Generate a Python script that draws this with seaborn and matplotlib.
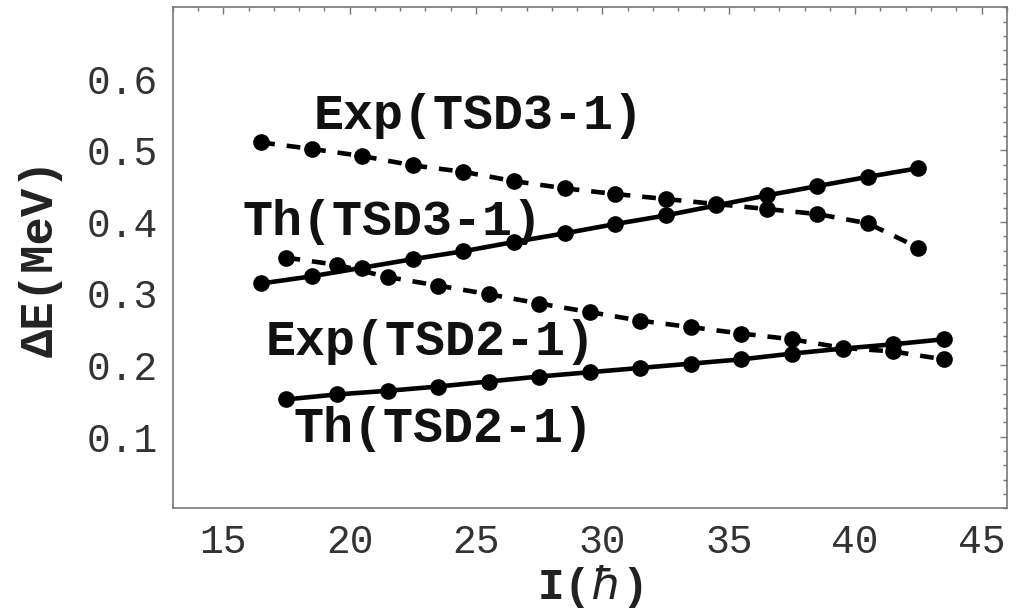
import matplotlib
matplotlib.use("Agg")
import matplotlib.pyplot as plt
import seaborn as sns
from matplotlib.ticker import MultipleLocator

# ---- data ----
spin_tsd3 = [16.5, 18.5, 20.5, 22.5, 24.5, 26.5, 28.5, 30.5, 32.5, 34.5, 36.5, 38.5, 40.5, 42.5]
exp_tsd3 = [0.511, 0.502, 0.492, 0.479, 0.470, 0.457, 0.447, 0.439, 0.432, 0.425, 0.418, 0.411, 0.398, 0.364]
th_tsd3 = [0.314, 0.324, 0.336, 0.348, 0.359, 0.372, 0.384, 0.397, 0.409, 0.423, 0.437, 0.450, 0.463, 0.475]

spin_tsd2 = [17.5, 19.5, 21.5, 23.5, 25.5, 27.5, 29.5, 31.5, 33.5, 35.5, 37.5, 39.5, 41.5, 43.5]
exp_tsd2 = [0.350, 0.340, 0.323, 0.311, 0.299, 0.286, 0.274, 0.262, 0.253, 0.244, 0.236, 0.224, 0.219, 0.208]
th_tsd2 = [0.152, 0.159, 0.164, 0.170, 0.177, 0.184, 0.190, 0.196, 0.202, 0.208, 0.216, 0.223, 0.229, 0.236]

labels = ["Exp(TSD3-1)", "Th(TSD3-1)", "Exp(TSD2-1)", "Th(TSD2-1)"]
label_pos = [(25.1, 0.548), (21.7, 0.400), (23.2, 0.232), (23.7, 0.110)]

x_label = r"I($\hbar$)"
y_label = "ΔE(MeV)"

# ---- style ----
sns.set_theme(style="white")
plt.rcParams['font.family'] = ['Liberation Mono', 'DejaVu Sans']

fig = plt.figure(figsize=(10.16, 6.16), dpi=100)
ax = fig.add_axes([0.170, 0.175, 0.821, 0.8133])

dash = (0, (3.0, 2.6))
common = dict(ax=ax, color="black", marker="o", markersize=12,
              markeredgecolor="black", markeredgewidth=0, linewidth=3.3, legend=False)

sns.lineplot(x=spin_tsd3, y=exp_tsd3, linestyle=dash, **common)
sns.lineplot(x=spin_tsd3, y=th_tsd3, linestyle="-", **common)
sns.lineplot(x=spin_tsd2, y=exp_tsd2, linestyle=dash, **common)
sns.lineplot(x=spin_tsd2, y=th_tsd2, linestyle="-", **common)

for txt, (tx, ty) in zip(labels, label_pos):
    ax.text(tx, ty, txt, ha="center", va="center", fontsize=36,
            fontweight="bold", color="#111111")

ax.set_xlim(13, 46)
ax.set_ylim(0, 0.7)
ax.xaxis.set_major_locator(MultipleLocator(5))
ax.xaxis.set_minor_locator(MultipleLocator(1))
ax.yaxis.set_major_locator(MultipleLocator(0.1))
ax.yaxis.set_minor_locator(MultipleLocator(0.02))
ax.set_yticks([0.1, 0.2, 0.3, 0.4, 0.5, 0.6])
ax.set_yticklabels(["0.1", "0.2", "0.3", "0.4", "0.5", "0.6"])

ax.tick_params(which="both", direction="in", top=True, right=True,
               color="#777777", width=1.0)
ax.tick_params(which="major", length=5, labelsize=28.5, pad=11, labelcolor="#333333")
ax.tick_params(which="minor", length=3)
for sp in ax.spines.values():
    sp.set_color("#777777")
    sp.set_linewidth(1.2)

ax.set_xlabel(x_label, fontsize=32, fontweight="bold", labelpad=1, color="#222222")
ax.set_ylabel(y_label, fontsize=34, fontweight="bold", labelpad=17, color="#222222")

fig.savefig("out.png", dpi=100)
